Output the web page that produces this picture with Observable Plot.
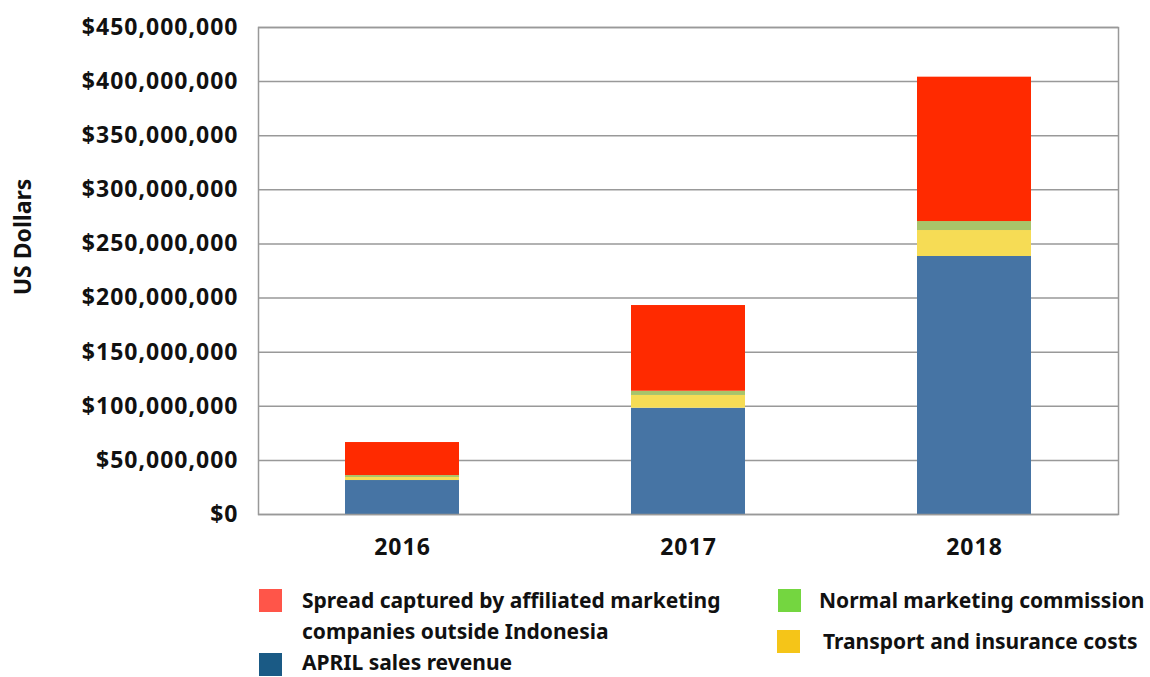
<!DOCTYPE html>
<html>
<head>
<meta charset="utf-8">
<script src="https://cdn.jsdelivr.net/npm/d3@7"></script>
<script src="https://cdn.jsdelivr.net/npm/@observablehq/plot@0.6"></script>
<style>
  html, body { margin: 0; padding: 0; background: #fff; }
  body { width: 1150px; height: 677px; position: relative; overflow: hidden; font-family: "Noto Sans", sans-serif; font-weight: 700; color: #111; }
  #chart { position: absolute; left: 0; top: 0; }
  #chart svg text { letter-spacing: 1px; }
  .lg { position: absolute; font-size: 21px; line-height: 31px; white-space: nowrap; }
  .sw { position: absolute; width: 23px; height: 23px; }
</style>
</head>
<body>
<div id="chart"></div>
<div id="legend"></div>
<script>
const years = ["2016", "2017", "2018"];
const seriesNames = [
  "APRIL sales revenue",
  "Transport and insurance costs",
  "Normal marketing commission",
  "Spread captured by affiliated marketing companies outside Indonesia"
];
const aprilRevenue = [31.4e6, 98.2e6, 238.4e6];
const transportCosts = [2.8e6, 11.8e6, 24.0e6];
const marketingCommission = [1.8e6, 3.9e6, 8.3e6];
const spreadCaptured = [30.5e6, 79.2e6, 133.4e6];
const yTicks = [0, 50e6, 100e6, 150e6, 200e6, 250e6, 300e6, 350e6, 400e6, 450e6];

const barColors = ["#4674a4", "#f6dc55", "#a8c46a", "#ff2a00"];
const legendColors = ["#1a5a85", "#f5c518", "#74d640", "#ff5549"];

const seriesValues = [aprilRevenue, transportCosts, marketingCommission, spreadCaptured];
const data = [];
seriesNames.forEach((s, i) => {
  years.forEach((y, j) => data.push({year: y, series: s, value: seriesValues[i][j]}));
});

const fmt = d3.format(",");
const chart = Plot.plot({
  width: 1150,
  height: 575,
  marginLeft: 258,
  marginRight: 32,
  marginTop: 27,
  marginBottom: 61,
  style: {fontFamily: "Noto Sans, sans-serif", fontWeight: 700, fontSize: "23px", color: "#111", background: "#fff"},
  x: {domain: years, paddingInner: 0.6, paddingOuter: 0.3, label: null, tickSize: 0, tickPadding: 24},
  y: {domain: [0, 450e6], ticks: yTicks, tickFormat: d => "$" + fmt(d), label: null, tickSize: 0, tickPadding: 20},
  color: {domain: seriesNames, range: barColors},
  marks: [
    Plot.gridY(yTicks, {stroke: "#999", strokeOpacity: 1, strokeWidth: 1.5}),
    Plot.barY(data, {x: "year", y: "value", fill: "series", inset: 0}),
    Plot.frame({stroke: "#999", strokeWidth: 1.5})
  ]
});
document.getElementById("chart").appendChild(chart);

// y-axis title
const ylab = document.createElement("div");
ylab.textContent = "US Dollars";
ylab.style.cssText = "position:absolute;left:22px;top:237px;transform:translate(-50%,-50%) rotate(-90deg);font-size:23px;white-space:nowrap;";
document.body.appendChild(ylab);

// legend
const legendItems = [
  {i: 3, sx: 259, sy: 589, tx: 302, ty: 585, lh: 31, text: "Spread captured by affiliated marketing<br>companies outside Indonesia"},
  {i: 0, sx: 259, sy: 653, tx: 302, ty: 651, lh: 22, text: "APRIL sales revenue"},
  {i: 2, sx: 778, sy: 589, tx: 819, ty: 585, lh: 31, text: "Normal marketing commission"},
  {i: 1, sx: 777, sy: 630, tx: 823, ty: 626, lh: 31, text: "Transport and insurance costs"}
];
const lg = document.getElementById("legend");
legendItems.forEach(it => {
  const sw = document.createElement("div");
  sw.className = "sw";
  sw.style.left = it.sx + "px"; sw.style.top = it.sy + "px";
  sw.style.background = legendColors[it.i];
  lg.appendChild(sw);
  const t = document.createElement("div");
  t.className = "lg";
  t.style.left = it.tx + "px"; t.style.top = it.ty + "px";
  t.style.lineHeight = it.lh + "px";
  t.innerHTML = it.text;
  lg.appendChild(t);
});
</script>
</body>
</html>
